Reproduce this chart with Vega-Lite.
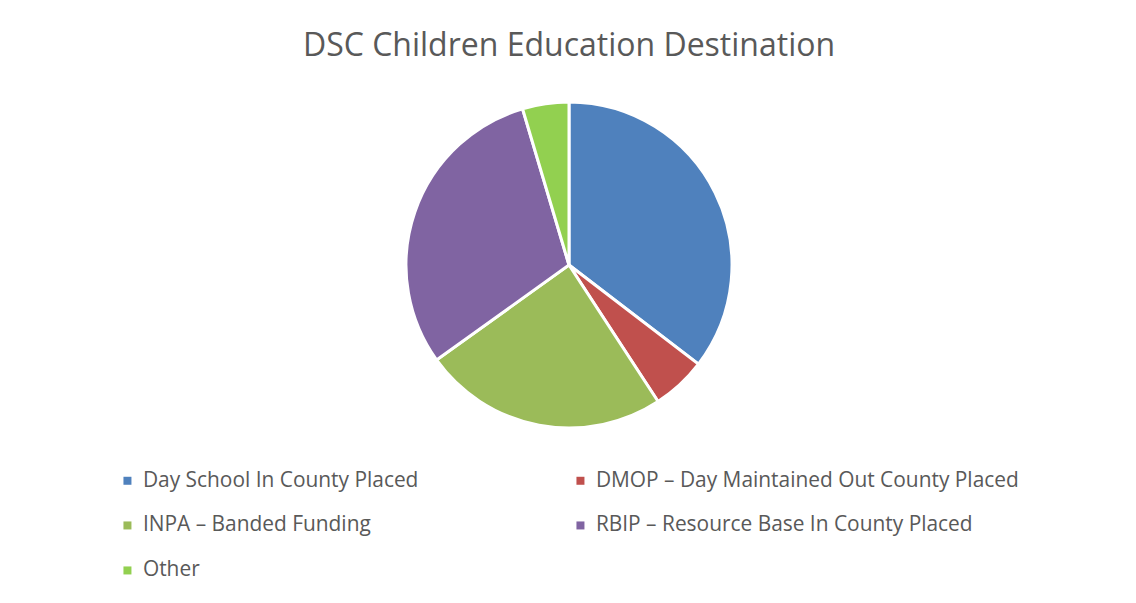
{
  "$schema": "https://vega.github.io/schema/vega-lite/v6.json",
  "autosize": {"type": "none"},
  "width": 1138,
  "height": 360,
  "padding": {"top": 85, "left": 0, "right": 0, "bottom": 158},
  "background": "white",
  "title": {
    "text": "DSC Children Education Destination",
    "font": "Open Sans",
    "fontSize": 32,
    "fontWeight": "normal",
    "color": "#595959",
    "anchor": "middle",
    "offset": 22
  },
  "data": {
    "values": [
      {"category": "Day School In County Placed", "value": 35.4, "idx": 1},
      {"category": "DMOP – Day Maintained Out County Placed", "value": 5.4, "idx": 2},
      {"category": "INPA – Banded Funding", "value": 24.3, "idx": 3},
      {"category": "RBIP – Resource Base In County Placed", "value": 30.3, "idx": 4},
      {"category": "Other", "value": 4.6, "idx": 5}
    ]
  },
  "mark": {"type": "arc", "outerRadius": 163, "stroke": "white", "strokeWidth": 3},
  "encoding": {
    "theta": {"field": "value", "type": "quantitative", "stack": true},
    "order": {"field": "idx", "type": "quantitative"},
    "color": {
      "field": "category",
      "type": "nominal",
      "scale": {
        "domain": ["Day School In County Placed", "DMOP – Day Maintained Out County Placed", "INPA – Banded Funding", "RBIP – Resource Base In County Placed", "Other"],
        "range": ["#4F81BD", "#C0504D", "#9BBB59", "#8064A2", "#92D050"]
      },
      "legend": {
        "title": null,
        "orient": "none",
        "legendX": 117,
        "legendY": 385,
        "padding": 0,
        "columns": 2,
        "direction": "horizontal",
        "symbolType": "square",
        "symbolSize": 64,
        "symbolStrokeWidth": 0,
        "labelFont": "Open Sans",
        "labelFontSize": 20.9,
        "labelColor": "#595959",
        "labelOffset": 5,
        "labelLimit": 600,
        "columnPadding": 151,
        "rowPadding": 23
      }
    }
  },
  "config": {"view": {"stroke": null}}
}
